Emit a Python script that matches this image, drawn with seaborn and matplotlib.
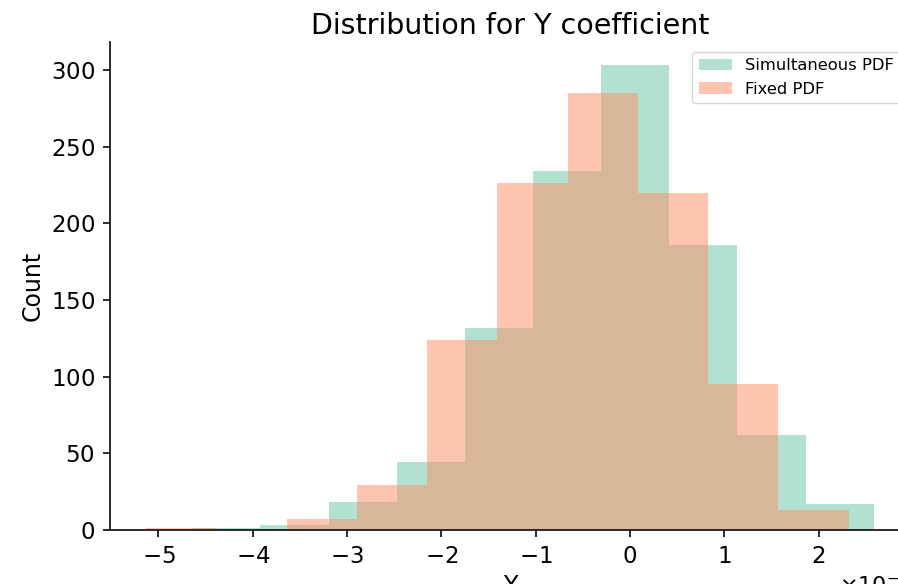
import numpy as np
import pandas as pd
import matplotlib
matplotlib.use("Agg")
import matplotlib.pyplot as plt
import seaborn as sns

# ---- data (x in units of 1e-7) ----
scale = 1e-7
sim_edges = [-4.640, -3.918, -3.195, -2.473, -1.750, -1.028, -0.305, 0.418, 1.140, 1.863, 2.585]
sim_counts = [1, 3, 18, 44, 132, 234, 303, 186, 62, 17]
fix_edges = [-5.128, -4.383, -3.639, -2.894, -2.149, -1.405, -0.660, 0.084, 0.829, 1.574, 2.319]
fix_counts = [1, 0, 7, 29, 124, 226, 285, 220, 95, 13]
labels = ["Simultaneous PDF", "Fixed PDF"]
title = "Distribution for Y coefficient"
xlabel = "Y"
ylabel = "Count"

sns.set_style("ticks")
plt.rcParams["font.family"] = ["DejaVu Sans"]
plt.rcParams["axes.formatter.use_mathtext"] = True
plt.rcParams["text.color"] = "black"
plt.rcParams["axes.labelcolor"] = "black"
colors = sns.color_palette("Set2", 2)

def make_df(edges, counts):
    e = [v * scale for v in edges]
    centers = [(a + b) / 2 for a, b in zip(e[:-1], e[1:])]
    return pd.DataFrame({"x": centers, "w": counts}), e

fig = plt.figure(figsize=(8.98, 5.84), dpi=100)
ax = fig.add_axes([0.1225, 0.0925, 0.8909, 0.8356])

df1, e1 = make_df(sim_edges, sim_counts)
df2, e2 = make_df(fix_edges, fix_counts)
sns.histplot(data=df1, x="x", weights="w", bins=e1, color=colors[0], alpha=0.5,
             edgecolor="none", linewidth=0, label=labels[0], ax=ax)
sns.histplot(data=df2, x="x", weights="w", bins=e2, color=colors[1], alpha=0.5,
             edgecolor="none", linewidth=0, label=labels[1], ax=ax)

sns.despine(ax=ax)
for s in ["left", "bottom"]:
    ax.spines[s].set_linewidth(1.3)
    ax.spines[s].set_color("#1a1a1a")
ax.tick_params(axis="both", labelsize=16.5, length=5, width=1.3, pad=6, colors="#1a1a1a")
ax.tick_params(axis="both", labelcolor="black")
ax.xaxis.get_offset_text().set_fontsize(16)
ax.xaxis.get_offset_text().set_color("black")
ax.set_xlabel(xlabel, fontsize=17, color="black")
ax.set_ylabel(ylabel, fontsize=17, color="black")
ax.set_title(title, fontsize=20.5, color="black")
leg = ax.legend(loc="upper right", fontsize=11.8, borderaxespad=0.6)
for t in leg.get_texts():
    t.set_color("black")

fig.savefig("out.png", dpi=100)
